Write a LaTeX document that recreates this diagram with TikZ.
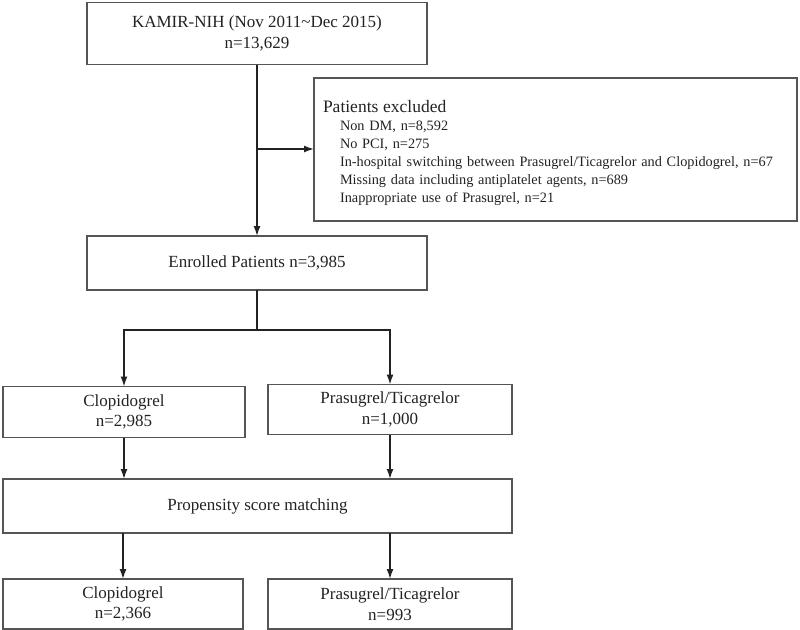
\documentclass[tikz,border=0pt]{standalone}
\usepackage{fontspec}
\setmainfont{Liberation Serif}
\usetikzlibrary{arrows.meta}
\definecolor{boxc}{HTML}{555555}
\definecolor{txtc}{HTML}{222222}
\tikzset{
  box/.style={draw=boxc, line width=1.1pt, inner sep=0pt, outer sep=0pt, align=center,
    text=txtc, font=\fontsize{17}{20.5}\selectfont},
  arr/.style={draw=txtc, line width=1.4pt, -{Latex[length=10pt,width=7pt]}},
  ln/.style={draw=txtc, line width=1.4pt}
}
\begin{document}
\begin{tikzpicture}[x=1pt,y=-1pt]
\useasboundingbox (0,0) rectangle (800,629);
\node[box, minimum width=340, minimum height=62] (top) at (257,33.5)
  {KAMIR-NIH (Nov 2011\textasciitilde Dec 2015)\\n=13,629};
\node[box, minimum width=483, minimum height=143, text width=465, align=left,
      font=\fontsize{14.3}{18}\selectfont] (excl) at (555.5,149.5)
  {{\fontsize{17.5}{20}\selectfont\rule{0pt}{19pt}Patients excluded}\\[0pt]
   \hspace*{17pt}Non DM, n=8,592\\
   \hspace*{17pt}No PCI, n=275\\
   \hspace*{17pt}In-hospital switching between Prasugrel/Ticagrelor and Clopidogrel, n=67\\
   \hspace*{17pt}Missing data including antiplatelet agents, n=689\\
   \hspace*{17pt}Inappropriate use of Prasugrel, n=21};
\node[box, minimum width=340, minimum height=54] (enr) at (257,263) {Enrolled Patients n=3,985};
\node[box, minimum width=242, minimum height=51] (clo1) at (124,412) {Clopidogrel\\n=2,985};
\node[box, minimum width=244, minimum height=50] (pra1) at (390,409.5) {Prasugrel/Ticagrelor\\n=1,000};
\node[box, minimum width=509, minimum height=54] (psm) at (257.5,506) {Propensity score matching};
\node[box, minimum width=240, minimum height=50] (clo2) at (123,604) {Clopidogrel\\n=2,366};
\node[box, minimum width=244, minimum height=50] (pra2) at (390,604) {Prasugrel/Ticagrelor\\n=993};
\coordinate (br) at (257,149);
\coordinate (split) at (257,330);
\draw[arr] (top.south) -- (enr.north);
\draw[arr] (br) -- (excl.west |- br);
\draw[ln] (enr.south) -- (split);
\draw[arr] (split) -| (clo1.north);
\draw[arr] (split) -| (pra1.north);
\draw[arr] (clo1.south) -- (clo1.south |- psm.north);
\draw[arr] (pra1.south) -- (pra1.south |- psm.north);
\draw[arr] (clo2.north |- psm.south) -- (clo2.north);
\draw[arr] (pra2.north |- psm.south) -- (pra2.north);
\end{tikzpicture}
\end{document}
